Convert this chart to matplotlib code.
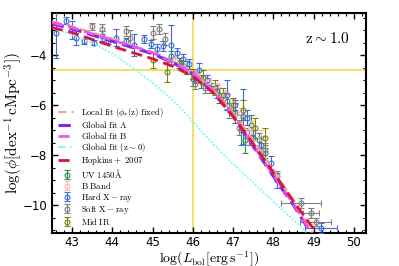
import numpy as np
import matplotlib
matplotlib.use('Agg')
import matplotlib.pyplot as plt
from matplotlib.ticker import MultipleLocator

plt.rcParams['mathtext.fontset'] = 'cm'
plt.rcParams['font.family'] = 'DejaVu Sans'

# fitted curves: log L_bol -> log phi
lum_fit = [42.5, 43.0, 44.0, 45.0, 45.5, 46.0, 46.5, 47.0, 47.5, 48.0, 48.5, 49.0]
phi_local = [-2.65, -2.85, -3.35, -3.9, -4.25, -4.7, -5.35, -6.3, -7.4, -8.6, -9.8, -11.05]
phi_globA = [-2.75, -2.95, -3.45, -3.95, -4.3, -4.75, -5.45, -6.45, -7.65, -8.85, -10.0, -11.3]
phi_globB = [-2.7, -2.9, -3.4, -3.9, -4.28, -4.72, -5.4, -6.4, -7.6, -8.8, -9.95, -11.25]
phi_hopkins = [-2.9, -3.1, -3.65, -4.15, -4.45, -4.85, -5.5, -6.45, -7.55, -8.7, -9.85, -10.95]

lum_z0 = [42.5, 43.0, 43.5, 44.0, 44.5, 45.0, 45.5, 46.0, 46.5, 47.0, 47.5, 48.0, 48.5, 49.0]
phi_z0 = [-2.9, -3.2, -3.5, -3.95, -4.5, -5.1, -5.8, -6.65, -7.55, -8.35, -9.1, -9.85, -10.6, -11.35]

# binned data: x, y, yerr
uv_x = [45.45, 45.65, 45.85, 46.0, 46.2, 46.45, 46.65, 46.85, 47.05, 47.2, 47.3, 47.45, 47.65, 47.8]
uv_y = [-4.05, -4.3, -4.5, -4.95, -5.05, -5.3, -5.6, -5.85, -6.3, -7.0, -7.4, -6.8, -7.4, -7.9]
uv_e = [0.2, 0.2, 0.25, 0.3, 0.25, 0.2, 0.3, 0.3, 0.4, 0.6, 0.5, 0.4, 0.3, 0.3]

bb_x = [45.55, 45.8, 46.1, 46.4, 46.6, 46.8, 47.0, 47.2, 47.45, 47.7]
bb_y = [-4.2, -4.45, -4.8, -5.05, -5.25, -5.55, -5.95, -6.3, -6.9, -7.3]
bb_e = [0.15, 0.15, 0.15, 0.15, 0.15, 0.15, 0.2, 0.2, 0.25, 0.3]

hx_x = [42.6, 42.85, 43.0, 43.1, 43.3, 43.55, 43.75, 43.9, 44.1, 44.35, 44.55, 44.8, 44.95,
        45.1, 45.25, 45.45, 45.6, 45.75, 45.9, 46.05, 46.15, 46.35, 46.6, 46.85, 47.05,
        47.25, 47.35, 47.5, 47.7, 47.95, 48.1]
hx_y = [-3.1, -2.62, -3.0, -3.3, -3.45, -3.5, -3.25, -3.42, -3.3, -3.45, -3.6, -3.35, -3.55,
        -3.75, -3.65, -3.6, -3.9, -4.15, -4.35, -4.9, -4.6, -5.0, -5.45, -5.6, -6.0,
        -6.45, -6.5, -7.3, -7.6, -8.3, -9.0]
hx_e = [1.0, 0.15, 0.35, 0.3, 0.1, 0.1, 0.2, 0.15, 0.35, 0.15, 0.45, 0.15, 0.15,
        0.2, 0.2, 0.8, 0.2, 0.2, 0.2, 0.2, 0.3, 0.2, 0.25, 0.6, 0.2,
        1.1, 0.3, 0.3, 0.35, 0.25, 0.3]
hx_bright_x = [49.18]
hx_bright_y = [-10.92]
hx_bright_xe = [0.4]
hx_bright_ye = [0.2]

sx_x = [43.5, 43.75, 44.35, 44.45, 45.0, 45.15, 45.3, 46.05, 46.3, 46.9, 47.15, 47.4, 47.8, 48.1]
sx_y = [-2.85, -2.95, -3.05, -3.3, -3.1, -2.95, -3.35, -5.15, -5.3, -6.2, -6.9, -7.3, -7.8, -8.85]
sx_e = [0.15, 0.2, 0.2, 0.3, 0.25, 0.2, 0.25, 0.2, 0.2, 0.3, 0.3, 0.3, 0.3, 0.2]
sx_bright_x = [48.68, 48.93, 49.05]
sx_bright_y = [-9.92, -10.32, -10.68]
sx_bright_xe = [0.5, 0.2, 0.38]
sx_bright_ye = [0.2, 0.2, 0.15]

ir_x = [45.0, 45.35, 45.7, 46.0, 46.25, 46.55, 46.75, 47.0, 47.25, 47.55, 47.8]
ir_y = [-4.2, -4.68, -4.4, -4.75, -4.9, -5.3, -5.6, -6.0, -6.2, -6.9, -7.3]
ir_e = [0.3, 0.4, 0.2, 0.2, 0.3, 0.3, 0.3, 0.3, 0.4, 0.4, 0.4]

fig = plt.figure(figsize=(3.99, 2.66), dpi=100)
ax = fig.add_axes([0.130, 0.124, 0.787, 0.827])

ax.axvline(46.0, color='#f7dc6f', lw=1.5, zorder=1)
ax.axhline(-4.6, color='#f7dc6f', lw=1.5, zorder=1)

# fit lines first so they come first in the legend
ax.plot(lum_fit, phi_local, color='#f4a582', ls=(0, (5, 2)), lw=1.5, zorder=4,
        label=r'$\mathrm{Local\ fit\ (\phi_{*}(z)\ fixed)}$')
ax.plot(lum_fit, phi_globA, color='#7b2be2', ls=(0, (4, 2)), lw=2.2, zorder=4,
        label=r'$\mathrm{Global\ fit\ A}$')
ax.plot(lum_fit, phi_globB, color='#ee55ee', ls=(0, (4, 2)), lw=2.0, zorder=4,
        label=r'$\mathrm{Global\ fit\ B}$')
ax.plot(lum_z0, phi_z0, color='#7ff5f5', ls=(0, (1, 1)), lw=1.3, zorder=4,
        label=r'$\mathrm{Global\ fit\ (z\sim0)}$')
ax.plot(lum_fit, phi_hopkins, color='#dc143c', ls=(0, (4, 2)), lw=2.0, zorder=4,
        label=r'$\mathrm{Hopkins+\ 2007}$')

eb = dict(fmt='o', mfc='none', ms=3.5, mew=0.8, capsize=2, elinewidth=0.8, capthick=0.8, zorder=3)
ax.errorbar(uv_x, uv_y, yerr=uv_e, color='#2e8b57', label=r'$\mathrm{UV\ 1450\AA}$', **eb)
ax.errorbar(bb_x, bb_y, yerr=bb_e, color='#ffb6c1', label=r'$\mathrm{B\ Band}$', **eb)
ax.errorbar(hx_x, hx_y, yerr=hx_e, color='#4169e1', label=r'$\mathrm{Hard\ X-ray}$', **eb)
ax.errorbar(hx_bright_x, hx_bright_y, xerr=hx_bright_xe, yerr=hx_bright_ye, color='#4169e1', **eb)
ax.errorbar(sx_x, sx_y, yerr=sx_e, color='#808080', label=r'$\mathrm{Soft\ X-ray}$', **eb)
ax.errorbar(sx_bright_x, sx_bright_y, xerr=sx_bright_xe, yerr=sx_bright_ye, color='#808080', **eb)
ax.errorbar(ir_x, ir_y, yerr=ir_e, color='#808000', label=r'$\mathrm{Mid\ IR}$', **eb)

ax.set_xlim(42.5, 50.3)
ax.set_ylim(-11.12, -2.32)
ax.xaxis.set_major_locator(MultipleLocator(1))
ax.xaxis.set_minor_locator(MultipleLocator(0.2))
ax.yaxis.set_major_locator(MultipleLocator(2))
ax.yaxis.set_minor_locator(MultipleLocator(0.5))
ax.tick_params(which='both', direction='in', top=True, right=True, labelsize=8.5)
ax.tick_params(axis='x', pad=2.5)
ax.tick_params(which='major', length=4, width=1)
ax.tick_params(which='minor', length=2, width=0.8)
for s in ax.spines.values():
    s.set_linewidth(1.5)

ax.set_xlabel(r'$\log(L_{\rm bol}[{\rm erg\,s^{-1}}])$', fontsize=10, labelpad=0.5)
ax.set_ylabel(r'$\log(\phi[{\rm dex^{-1}\,cMpc^{-3}}])$', fontsize=11)
ax.yaxis.set_label_coords(-0.085, 0.5)
ax.text(0.95, 0.92, r'$\mathrm{z\sim1.0}$', transform=ax.transAxes, ha='right', va='top', fontsize=11)

leg = ax.legend(loc='lower left', frameon=False, fontsize=6.3, handlelength=2.0,
                labelspacing=0.0, borderaxespad=0.3, handletextpad=0.6)
for line in leg.get_lines():
    if line.get_linestyle() not in ('None', ''):
        line.set_linestyle((0, (4, 2.5, 1, 2.5)))

fig.savefig('out.png', dpi=100)
